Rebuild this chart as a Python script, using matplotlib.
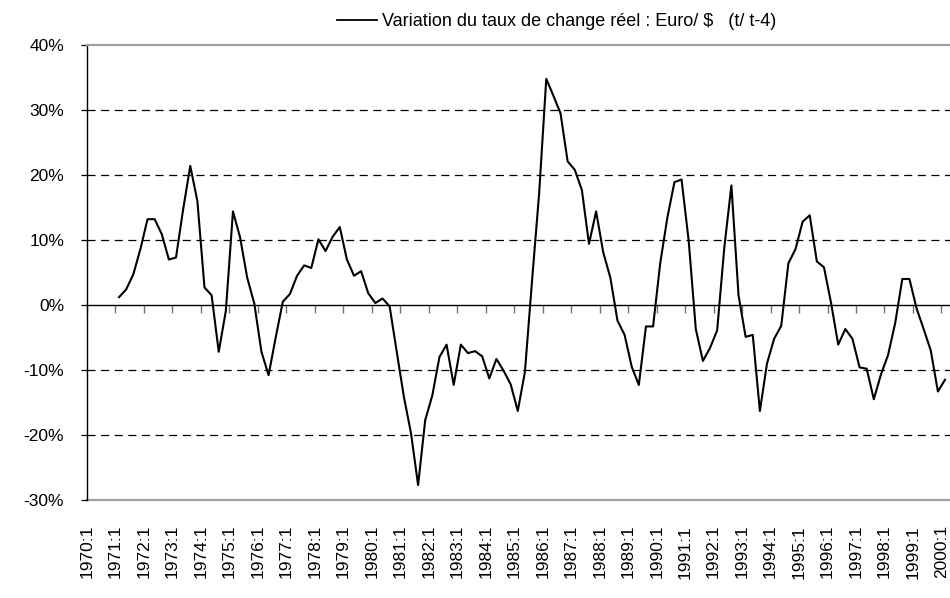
import matplotlib
matplotlib.use('Agg')
import matplotlib.pyplot as plt
import numpy as np

plt.rcParams['font.family'] = ['Liberation Sans', 'DejaVu Sans']
plt.rcParams['lines.scale_dashes'] = False

# ---------------- data ----------------
start_year = 1970
end_year = 2000
quarters = [f"{y}:{q}" for y in range(start_year, end_year + 1) for q in range(1, 5)]
quarters = quarters[:quarters.index("2000:1") + 1]

first_data = "1971:1"
values = [
    1.2, 2.4, 4.7, 8.6,            # 1971
    13.2, 13.2, 10.9, 7.0,         # 1972
    7.3, 14.7, 21.4, 16.0,         # 1973
    2.7, 1.5, -7.2, -0.9,          # 1974
    14.4, 10.4, 4.2, 0.2,          # 1975
    -7.2, -10.8, -5.0, 0.5,        # 1976
    1.7, 4.5, 6.1, 5.7,            # 1977
    10.1, 8.3, 10.5, 12.0,         # 1978
    7.0, 4.5, 5.2, 1.8,            # 1979
    0.3, 1.0, -0.2, -7.2,          # 1980
    -14.1, -19.7, -27.7, -17.7,    # 1981
    -13.9, -8.0, -6.1, -12.3,      # 1982
    -6.1, -7.4, -7.1, -7.9,        # 1983
    -11.3, -8.3, -10.1, -12.2,     # 1984
    -16.3, -10.3, 3.7, 17.2,       # 1985
    34.8, 32.2, 29.5, 22.1,        # 1986
    20.8, 17.7, 9.4, 14.4,         # 1987
    8.1, 4.2, -2.4, -4.6,          # 1988
    -9.5, -12.3, -3.3, -3.3,       # 1989
    6.4, 13.4, 18.9, 19.3,         # 1990
    9.9, -3.7, -8.6, -6.6,         # 1991
    -3.9, 8.8, 18.4, 1.5,          # 1992
    -4.9, -4.6, -16.3, -9.0,       # 1993
    -5.2, -3.2, 6.4, 8.6,          # 1994
    12.8, 13.8, 6.7, 5.8,          # 1995
    0.3, -6.1, -3.7, -5.2,         # 1996
    -9.6, -9.8, -14.5, -10.7,      # 1997
    -7.7, -2.8, 4.0, 4.0,          # 1998
    -0.5, -3.7, -7.0, -13.3,       # 1999
    -11.5,                         # 2000
]
series_label = "Variation du taux de change réel : Euro/ $   (t/ t-4)"
y_ticks = [-30, -20, -10, 0, 10, 20, 30, 40]
tick_labels = [q for q in quarters if q.endswith(":1")]

# ---------------- figure ----------------
W, H = 950, 598
fig = plt.figure(figsize=(W / 100, H / 100), dpi=100)
left_px, top_px, bottom_px = 87, 45, 500
ax = fig.add_axes([left_px / W, (H - bottom_px) / H, (W - left_px) / W, (bottom_px - top_px) / H])

x0 = quarters.index(first_data)
x = np.arange(len(values)) + x0
ax.plot(x, values, color='black', lw=1.5, label=series_label, zorder=5)

ax.set_ylim(y_ticks[0], y_ticks[-1])
ax.set_xlim(-0.5, 120.7)

# dashed gridlines
for v in y_ticks[1:-1]:
    if v != 0:
        ax.axhline(v, color='black', lw=0.9, dashes=(5.8, 4.0), zorder=1)

# y axis
ax.set_yticks(y_ticks)
ax.set_yticklabels([f"{v}%" for v in y_ticks], fontsize=12.5)
ax.tick_params(axis='y', direction='out', length=4.5, width=0.9, color='black', pad=12)
ax.spines['left'].set_color('black')
ax.spines['left'].set_linewidth(1.0)

# x axis (category axis crossing at 0)
tick_pos = [quarters.index(t) - 0.5 for t in tick_labels]
ax.spines['bottom'].set_position(('data', 0))
ax.spines['bottom'].set_color('black')
ax.spines['bottom'].set_linewidth(1.0)
ax.set_xticks(tick_pos)
ax.tick_params(axis='x', direction='out', length=6, width=1.0, color='#707070', labelbottom=False)

ax.spines['right'].set_visible(False)
ax.spines['top'].set_color('#a0a0a0')
ax.spines['top'].set_linewidth(1.6)

sec = ax.secondary_xaxis('bottom')
sec.set_xticks(tick_pos)
sec.set_xticklabels(tick_labels, rotation=90, fontsize=12.5)
sec.tick_params(axis='x', length=0, pad=18)
sec.spines['bottom'].set_color('#a0a0a0')
sec.spines['bottom'].set_linewidth(1.6)

leg = ax.legend(loc='center', bbox_to_anchor=(557 / W, 1 - 22 / H), bbox_transform=fig.transFigure,
                frameon=False, fontsize=13, handlelength=2.2, handletextpad=0.3,
                borderpad=0, borderaxespad=0)
for line in leg.get_lines():
    line.set_linewidth(1.3)

fig.savefig('out.png', dpi=100)
